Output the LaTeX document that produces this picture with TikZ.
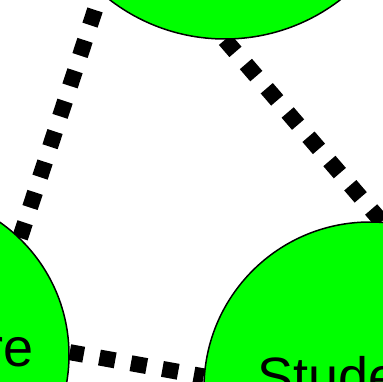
\documentclass[tikz,border=0pt]{standalone}
\usepackage{fontspec}
\setmainfont{Liberation Sans}
\usetikzlibrary{backgrounds}
\begin{document}
\begin{tikzpicture}[x=1pt,y=1pt,
  circ/.style={circle, draw=black, line width=1.5pt, fill={rgb,255:red,0;green,255;blue,0}, inner sep=0pt},
  lbl/.style={font=\fontsize{54}{64}\selectfont, inner sep=0pt},
  link/.style={draw=black, line width=16pt, dash pattern=on 16pt off 16pt}]
\useasboundingbox (0,0) rectangle (382,-382);
\node[circ, minimum size=378pt] (top) at (225,150) {};
\node[circ, minimum size=324pt] (ll) at (-93,-355) {};
\node[circ, minimum size=332pt] (stu) at (370,-388) {};
\node[lbl, anchor=base east] (llt) at ([shift={(126.5pt,-11pt)}]ll.center) {Courseware};
\node[lbl, anchor=base west] (stut) at ([shift={(-113pt,-7pt)}]stu.center) {Student};
\begin{pgfonlayer}{background}
\draw[link] (ll.46.9) -- (top.229.9);
\draw[link] (top.270.3) -- (stu.86.9);
\draw[link, dash phase=1.8pt] (ll.1.6) -- (stu.176.9);
\end{pgfonlayer}
\end{tikzpicture}
\end{document}
